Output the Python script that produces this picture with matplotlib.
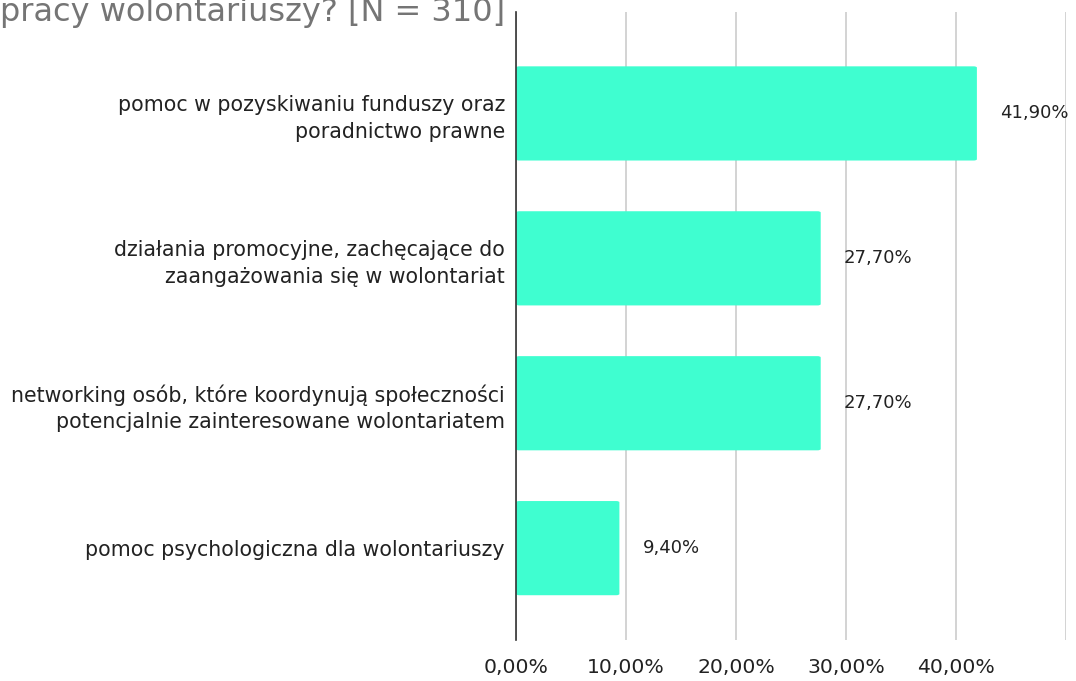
"""Horizontal bar chart: forms of support for volunteer coordinators (N = 310)."""

import matplotlib

matplotlib.use("Agg")
import matplotlib.pyplot as plt
from matplotlib.patches import FancyBboxPatch
from matplotlib.ticker import FuncFormatter, MultipleLocator

CATEGORIES = [
    "pomoc w pozyskiwaniu funduszy oraz\nporadnictwo prawne",
    "działania promocyjne, zachęcające do\nzaangażowania się w wolontariat",
    "networking osób, które koordynują społeczności\npotencjalnie zainteresowane wolontariatem",
    "pomoc psychologiczna dla wolontariuszy",
]
VALUES = [41.9, 27.7, 27.7, 9.4]
TITLE = "pracy wolontariuszy? [N = 310]"

BAR_COLOR = "#3ffed0"
GRID_COLOR = "#cccccc"
TEXT_COLOR = "#222222"
# the source text is wide Arial; DejaVu Sans is the closest wide face here
FONT = ["DejaVu Sans"]


def pct(v, _pos=None):
    return f"{v:.2f}%".replace(".", ",")


def main() -> None:
    fig = plt.figure(figsize=(10.76, 6.81), dpi=100)
    ax = fig.add_axes([516 / 1076, 41 / 681, 550 / 1076, 628 / 681])

    ypos = list(range(len(CATEGORIES)))
    bars = ax.barh(ypos, VALUES, height=0.65, color="none")
    # rounded bar ends like the source
    for rect in bars:
        x, y = rect.get_xy()
        ax.add_patch(FancyBboxPatch((x, y), rect.get_width(), rect.get_height(),
                                    boxstyle="round,pad=0,rounding_size=0.3",
                                    mutation_aspect=0.03,
                                    facecolor=BAR_COLOR, edgecolor="none", zorder=2))

    for y, v in zip(ypos, VALUES):
        ax.text(v + 2.1, y, pct(v), va="center", ha="left", fontsize=13,
                color=TEXT_COLOR, family=FONT)

    ax.set_xlim(0, 50)
    ax.set_ylim(3.634, -0.7)
    ax.xaxis.set_major_locator(MultipleLocator(10))
    ax.xaxis.set_major_formatter(FuncFormatter(lambda v, p: pct(v) if v < 45 else ""))
    ax.grid(axis="x", color=GRID_COLOR, linewidth=1.2, zorder=0)
    ax.set_axisbelow(True)

    ax.set_yticks(ypos)
    ax.set_yticklabels(CATEGORIES, fontsize=14.8, family=FONT, color=TEXT_COLOR,
                       linespacing=1.4)
    for lbl in ax.get_xticklabels():
        lbl.set_family(FONT)
        lbl.set_fontsize(14.7)
        lbl.set_color(TEXT_COLOR)
    ax.tick_params(axis="both", length=0)
    ax.tick_params(axis="y", pad=8)
    ax.tick_params(axis="x", pad=13)

    for side in ("top", "right", "bottom"):
        ax.spines[side].set_visible(False)
    ax.spines["left"].set_color("#333333")
    ax.spines["left"].set_linewidth(1.2)

    fig.text(0, 1 - 21 / 681, TITLE, ha="left", va="baseline", fontsize=23,
             color="#757575", family=FONT)

    fig.savefig("out.png", dpi=100)
    plt.close(fig)


if __name__ == "__main__":
    main()
